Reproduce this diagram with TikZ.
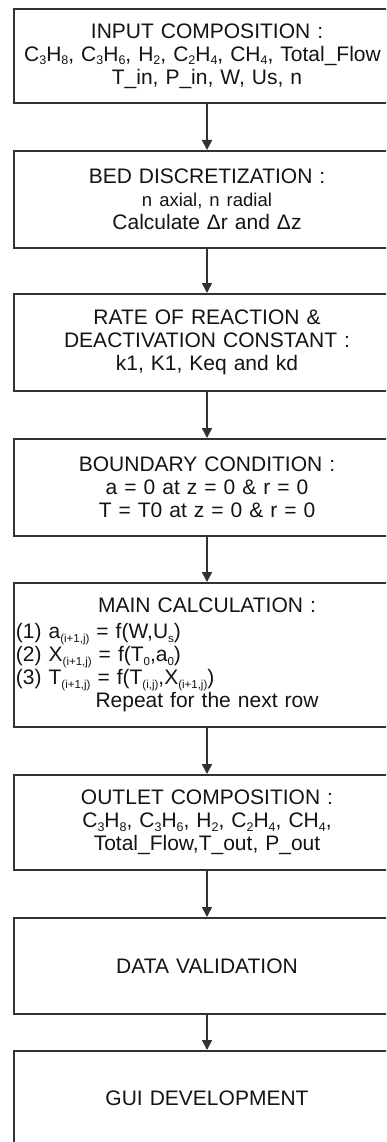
\documentclass[tikz,border=0pt]{standalone}
\usepackage{fontspec}
\setmainfont{Liberation Sans}
\usetikzlibrary{arrows.meta}
\definecolor{boxline}{RGB}{50,50,50}
\definecolor{txt}{RGB}{20,20,20}
\newcommand{\sbs}[1]{\raisebox{-0.35ex}{\fontsize{12.5}{12.5}\selectfont #1}}
\newcommand{\sbm}[1]{\raisebox{-0.35ex}{\fontsize{11.5}{11.5}\selectfont #1}}
\newcommand{\lft}[1]{\makebox[\linewidth][l]{#1}}
\begin{document}
\begin{tikzpicture}[x=1pt,y=-1pt,
  box/.style={draw=boxline, line width=1.6pt, minimum width=386pt, text width=382pt,
    inner xsep=2pt, inner ysep=0pt, align=center, anchor=north,
    font=\fontsize{21}{23}\selectfont, text=txt},
  flow/.style={draw=boxline, line width=1.6pt, -{Triangle[width=10pt,length=10pt]}}]
\useasboundingbox (0,0) rectangle (386,1142);
\clip (0,0) rectangle (386,1142);
\fill[white] (0,0) rectangle (386,1142);
\node[box, minimum height=94pt] (b1) at (207,8)
  {INPUT COMPOSITION :\\
   \hspace*{-9pt}C\sbs{3}H\sbs{8}, C\sbs{3}H\sbs{6}, H\sbs{2}, C\sbs{2}H\sbs{4}, CH\sbs{4}, Total\_Flow\\
   T\_in, P\_in, W, Us, n};
\node[box, minimum height=97pt] (b2) at (207,150)
  {BED DISCRETIZATION :\\
   {\fontsize{18.5}{23}\selectfont n axial, n radial}\\
   Calculate Δr and Δz};
\node[box, minimum height=97pt] (b3) at (207,293)
  {RATE OF REACTION \&\\
   DEACTIVATION CONSTANT :\\
   k1, K1, Keq and kd};
\node[box, minimum height=97pt] (b4) at (207,438)
  {BOUNDARY CONDITION :\\
   a = 0 at z = 0 \& r = 0\\
   T = T0 at z = 0 \& r = 0};
\node[box, minimum height=144pt] (b5) at (207,582)
  {MAIN CALCULATION :\\[3pt]
   \lft{(1) a\sbm{(i+1,j)} = f(W,U\sbm{s})}\\
   \lft{(2) X\sbm{(i+1,j)} = f(T\sbm{0},a\sbm{0})}\\
   \lft{(3) T\sbm{(i+1,j)} = f(T\sbm{(i,j)},X\sbm{(i+1,j)})}\\
   Repeat for the next row};
\node[box, minimum height=95pt] (b6) at (207,774)
  {OUTLET COMPOSITION :\\
   C\sbs{3}H\sbs{8}, C\sbs{3}H\sbs{6}, H\sbs{2}, C\sbs{2}H\sbs{4}, CH\sbs{4},\\
   Total\_Flow,T\_out, P\_out};
\node[box, minimum height=96pt] (b7) at (207,917) {DATA VALIDATION};
\node[box, minimum height=95pt] (b8) at (207,1050) {GUI DEVELOPMENT};
\draw[flow] (b1.south) -- (b2.north);
\draw[flow] (b2.south) -- (b3.north);
\draw[flow] (b3.south) -- (b4.north);
\draw[flow] (b4.south) -- (b5.north);
\draw[flow] (b5.south) -- (b6.north);
\draw[flow] (b6.south) -- (b7.north);
\draw[flow] (b7.south) -- (b8.north);
\end{tikzpicture}
\end{document}
